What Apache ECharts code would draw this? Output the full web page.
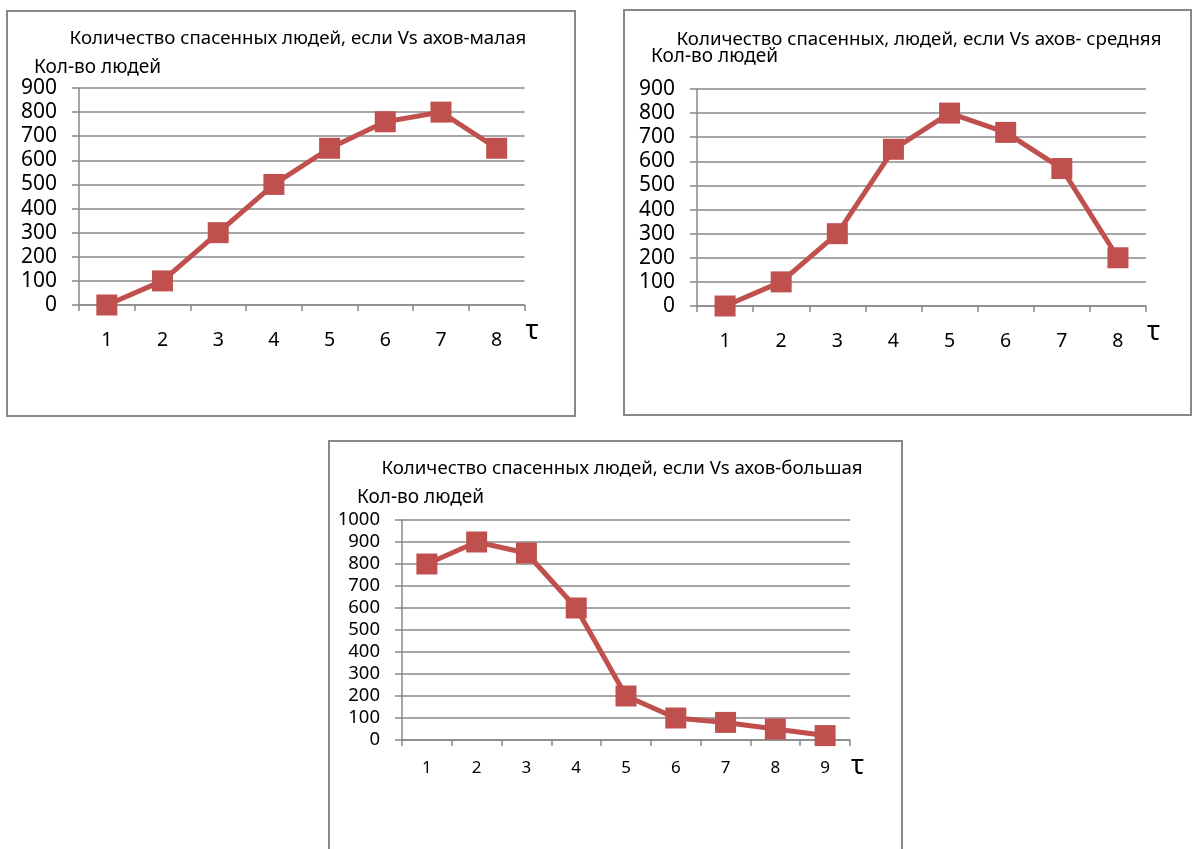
<!DOCTYPE html>
<html>
<head>
<meta charset="utf-8">
<script src="https://cdn.jsdelivr.net/npm/echarts@6/dist/echarts.min.js"></script>
<style>
  html, body { margin: 0; padding: 0; background: #fff; }
  #chart { width: 1197px; height: 849px; }
</style>
</head>
<body>
<div id="chart"></div>
<script>
// Time steps (τ) and number of people saved for each hazard-spread speed
const tauShort = ['1', '2', '3', '4', '5', '6', '7', '8'];
const tauLong = ['1', '2', '3', '4', '5', '6', '7', '8', '9'];
const savedLow = [0, 100, 300, 500, 650, 760, 800, 650];
const savedMid = [0, 100, 300, 650, 800, 720, 570, 200];
const savedHigh = [800, 900, 850, 600, 200, 100, 80, 50, 20];

const chartTitles = [
  'Количество спасенных людей, если Vs ахов-малая',
  'Количество спасенных, людей, если Vs ахов- средняя',
  'Количество спасенных людей, если Vs ахов-большая'
];
const yName = 'Кол-во людей';
const xName = 'τ';

const FONT = '"Noto Sans", "Open Sans", sans-serif';
const GRAY = '#888888';
const RED = '#C0504D';

const panels = [
  { grid: { left: 79, top: 88, right: 672.5, bottom: 544 }, cats: tauShort, data: savedLow, max: 900,
    box: [7, 11, 568, 405], title: [298, 39], yName: [34, 68], xFont: 19.5, yFont: 21, xMargin: 25 },
  { grid: { left: 697, top: 89, right: 51, bottom: 543 }, cats: tauShort, data: savedMid, max: 900,
    box: [624, 10, 567, 405], title: [919, 40], yName: [651, 57], xFont: 19.5, yFont: 21, xMargin: 25 },
  { grid: { left: 402, top: 520, right: 347, bottom: 109 }, cats: tauLong, data: savedHigh, max: 1000,
    box: [329, 441, 573, 440], title: [622, 469], yName: [357, 498], xFont: 17, yFont: 18.5, xMargin: 20 }
];

const grids = [], xAxes = [], yAxes = [], series = [], graphics = [];

panels.forEach((p, i) => {
  grids.push(Object.assign({ containLabel: false }, p.grid));

  xAxes.push({
    type: 'category', gridIndex: i, data: p.cats, boundaryGap: true,
    axisLine: { show: true, lineStyle: { color: GRAY, width: 1.5 } },
    axisTick: { show: true, length: 6, lineStyle: { color: GRAY, width: 1.5 } },
    axisLabel: { color: '#000', fontSize: p.xFont, fontFamily: FONT, margin: p.xMargin },
    splitLine: { show: false },
    name: xName, nameLocation: 'end', nameGap: 1,
    nameTextStyle: { color: '#000', fontSize: 27, fontFamily: FONT, align: 'left',
      verticalAlign: 'top', padding: [13, 0, 0, 0] }
  });

  yAxes.push({
    type: 'value', gridIndex: i, min: 0, max: p.max, interval: 100,
    axisLine: { show: true, lineStyle: { color: GRAY, width: 1.5 } },
    axisTick: { show: true, length: 7, lineStyle: { color: GRAY, width: 1.5 } },
    axisLabel: { color: '#000', fontSize: p.yFont, fontFamily: FONT, margin: 22,
      formatter: v => String(v) },
    splitLine: { show: true, lineStyle: { color: GRAY, width: 1.5 } }
  });

  series.push({
    type: 'line', xAxisIndex: i, yAxisIndex: i, data: p.data,
    symbol: 'rect', symbolSize: 21,
    lineStyle: { color: RED, width: 5 },
    itemStyle: { color: RED },
    animation: false
  });

  // panel frame
  graphics.push({
    type: 'rect', silent: true, z: -1,
    shape: { x: p.box[0], y: p.box[1], width: p.box[2], height: p.box[3] },
    style: { fill: '#fff', stroke: GRAY, lineWidth: 2 }
  });
  // chart heading
  graphics.push({
    type: 'text', x: p.title[0], y: p.title[1],
    style: { text: chartTitles[i], font: '18.7px ' + FONT, fill: '#000',
      textAlign: 'center', textVerticalAlign: 'middle' }
  });
  // value-axis caption
  graphics.push({
    type: 'text', x: p.yName[0], y: p.yName[1],
    style: { text: yName, font: '19px ' + FONT, fill: '#000',
      textAlign: 'left', textVerticalAlign: 'middle' }
  });
});

const chart = echarts.init(document.getElementById('chart'), null, { renderer: 'canvas' });
chart.setOption({
  backgroundColor: '#fff',
  animation: false,
  grid: grids,
  xAxis: xAxes,
  yAxis: yAxes,
  series: series,
  graphic: graphics
});
</script>
</body>
</html>
